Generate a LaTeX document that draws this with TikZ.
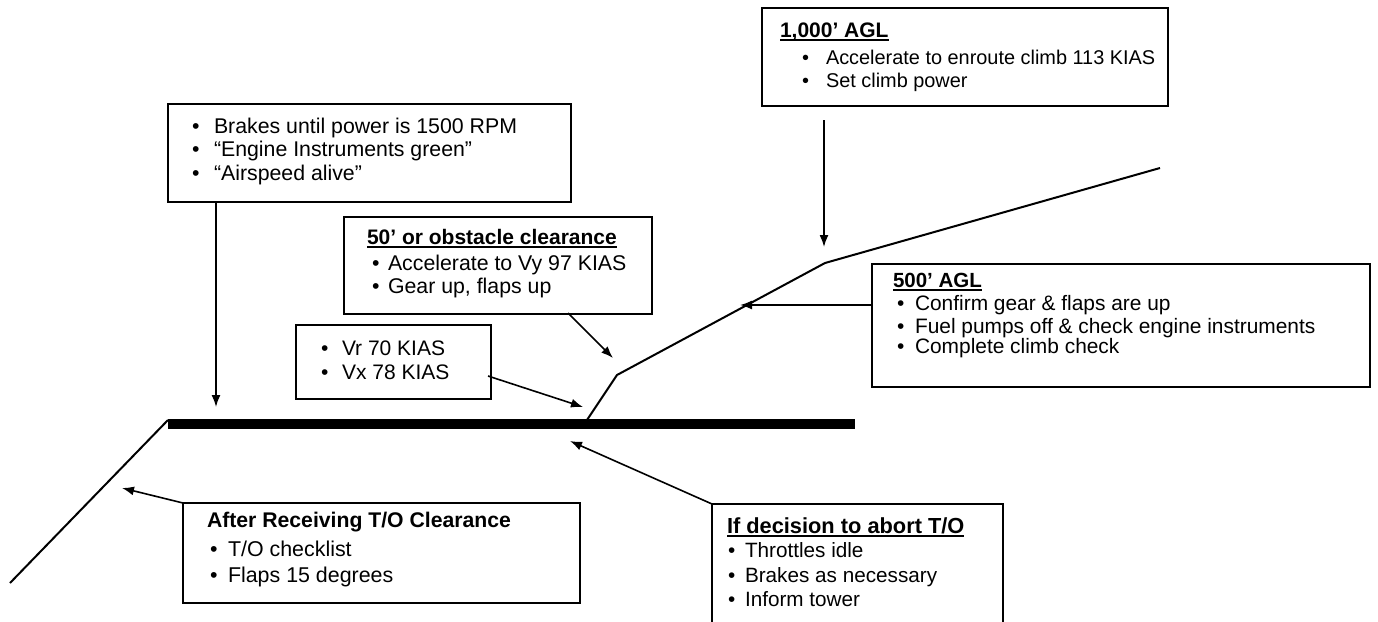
\documentclass[tikz,border=0pt]{standalone}
\usepackage{fontspec}
\setmainfont{Liberation Sans}
\newcommand{\myul}[1]{\leavevmode\setbox0=\hbox{#1}\rlap{\vrule width \wd0 height -2.2pt depth 3.6pt}\box0}
\newcommand{\fsz}[1]{\fontsize{#1}{#1}\selectfont}
\usetikzlibrary{arrows.meta,calc}
\tikzset{
  box/.style={draw=black, line width=2, fill=white, inner sep=0, outer sep=0, anchor=north west},
  txt/.style={anchor=base west, inner sep=0, outer sep=0, font=\fsz{21}},
  ttl/.style={txt, font=\fsz{21}\bfseries},
  arr/.style={line width=1.6, -{Latex[length=12,width=9]}},
  path/.style={line width=2, line join=miter},
  runway/.style={line width=10}
}
\begin{document}
\begin{tikzpicture}[x=1pt,y=-1pt]
\clip (0,0) rectangle (1378,621);
\fill[white] (0,0) rectangle (1378,621);

% flight path
\coordinate (rwL) at (168,424);
\coordinate (rwR) at (855,424);
\coordinate (slopeEnd) at (10,583);
\coordinate (lift) at (587,420);
\coordinate (bend1) at (617,375);
\coordinate (bend2) at (825,263);
\coordinate (climbEnd) at (1160,168);
\draw[runway] (rwL) -- (rwR);
\draw[path] ($(rwL)+(0,-4)$) -- (slopeEnd);
\draw[path] (lift) -- (bend1) -- (bend2) -- (climbEnd);

% 1,000' AGL
\node[box, minimum width=406, minimum height=98] (agl1000) at (762,8) {};
\node[ttl] (agl1000t) at (780,37) {\myul{1,000’ AGL}};
\node[txt, font=\fsz{19.9}] (agl1000b1) at (802,64) {\textbullet};
\node[txt, font=\fsz{19.9}] (agl1000l1) at (826,64) {Accelerate to enroute climb 113 KIAS};
\node[txt, font=\fsz{19.9}] (agl1000b2) at (802,87) {\textbullet};
\node[txt, font=\fsz{19.9}] (agl1000l2) at (826,87) {Set climb power};

% Brakes box
\node[box, minimum width=403, minimum height=98] (brk) at (168,104) {};
\node[txt, font=\fsz{21.3}] (brkb1) at (192,133) {\textbullet};
\node[txt, font=\fsz{21.3}] (brkl1) at (214,133) {Brakes until power is 1500 RPM};
\node[txt, font=\fsz{21.3}] (brkb2) at (192,156) {\textbullet};
\node[txt, font=\fsz{21.3}] (brkl2) at (214,156) {“Engine Instruments green”};
\node[txt, font=\fsz{21.3}] (brkb3) at (192,180) {\textbullet};
\node[txt, font=\fsz{21.3}] (brkl3) at (214,180) {“Airspeed alive”};

% 50' box
\node[box, minimum width=308, minimum height=97] (obs) at (344,217) {};
\node[ttl] (obst) at (367,244) {\myul{50’ or obstacle clearance}};
\node[txt, font=\fsz{21.3}] (obsb1) at (372,270) {\textbullet};
\node[txt, font=\fsz{21.3}] (obsl1) at (388,270) {Accelerate to Vy 97 KIAS};
\node[txt, font=\fsz{21.3}] (obsb2) at (372,293) {\textbullet};
\node[txt, font=\fsz{21.3}] (obsl2) at (388,293) {Gear up, flaps up};

% Vr box
\node[box, minimum width=195, minimum height=74] (vr) at (296,325) {};
\node[txt] (vrb1) at (321,355) {\textbullet};
\node[txt] (vrl1) at (342,355) {Vr 70 KIAS};
\node[txt] (vrb2) at (321,379) {\textbullet};
\node[txt] (vrl2) at (342,379) {Vx 78 KIAS};

% 500' AGL
\node[box, minimum width=498, minimum height=123] (agl500) at (872,264) {};
\node[ttl, font=\fsz{20.5}\bfseries] (agl500t) at (893,287) {\myul{500’ AGL}};
\node[txt, font=\fsz{20.9}] (agl500b1) at (897,310) {\textbullet};
\node[txt, font=\fsz{20.9}] (agl500l1) at (915,310) {Confirm gear \& flaps are up};
\node[txt, font=\fsz{20.9}] (agl500b2) at (897,333) {\textbullet};
\node[txt, font=\fsz{20.9}] (agl500l2) at (915,333) {Fuel pumps off \& check engine instruments};
\node[txt, font=\fsz{20.9}] (agl500b3) at (897,353) {\textbullet};
\node[txt, font=\fsz{20.9}] (agl500l3) at (915,353) {Complete climb check};

% After receiving
\node[box, minimum width=397, minimum height=100] (clr) at (183,503) {};
\node[ttl, font=\fsz{21.2}\bfseries] (clrt) at (207,527) {After Receiving T/O Clearance};
\node[txt, font=\fsz{21.4}] (clrb1) at (210,556) {\textbullet};
\node[txt, font=\fsz{21.4}] (clrl1) at (228,556) {T/O checklist};
\node[txt, font=\fsz{21.4}] (clrb2) at (210,582) {\textbullet};
\node[txt, font=\fsz{21.4}] (clrl2) at (228,582) {Flaps 15 degrees};

% Abort
\node[box, minimum width=291, minimum height=140] (abt) at (712,504) {};
\node[ttl, font=\fsz{21.8}\bfseries] (abtt) at (727,533) {\myul{If decision to abort T/O}};
\node[txt, font=\fsz{20.7}] (abtb1) at (728,557) {\textbullet};
\node[txt, font=\fsz{20.7}] (abtl1) at (745,557) {Throttles idle};
\node[txt, font=\fsz{20.7}] (abtb2) at (728,582) {\textbullet};
\node[txt, font=\fsz{20.7}] (abtl2) at (745,582) {Brakes as necessary};
\node[txt, font=\fsz{20.7}] (abtb3) at (728,606) {\textbullet};
\node[txt, font=\fsz{20.7}] (abtl3) at (745,606) {Inform tower};

% arrows
\coordinate (t1000) at (824,247);
\coordinate (s1000) at (824,120);
\coordinate (tbrk) at (216,407);
\coordinate (tobs) at (613,358);
\coordinate (tvr) at (583,407);
\coordinate (t500) at (740,305);
\coordinate (tclr) at (122,488);
\coordinate (tabt) at (570,441);
\draw[arr] (s1000) -- (t1000);
\draw[arr] ($(brk.south west)+(48,0)$) -- (tbrk);
\draw[arr] ($(obs.south west)+(224,-1)$) -- (tobs);
\draw[arr] ($(vr.south east)+(-3,-23)$) -- (tvr);
\draw[arr] ($(agl500.north west)+(0,41)$) -- (t500);
\draw[arr] (clr.north west) -- (tclr);
\draw[arr] (abt.north west) -- (tabt);
\end{tikzpicture}
\end{document}
